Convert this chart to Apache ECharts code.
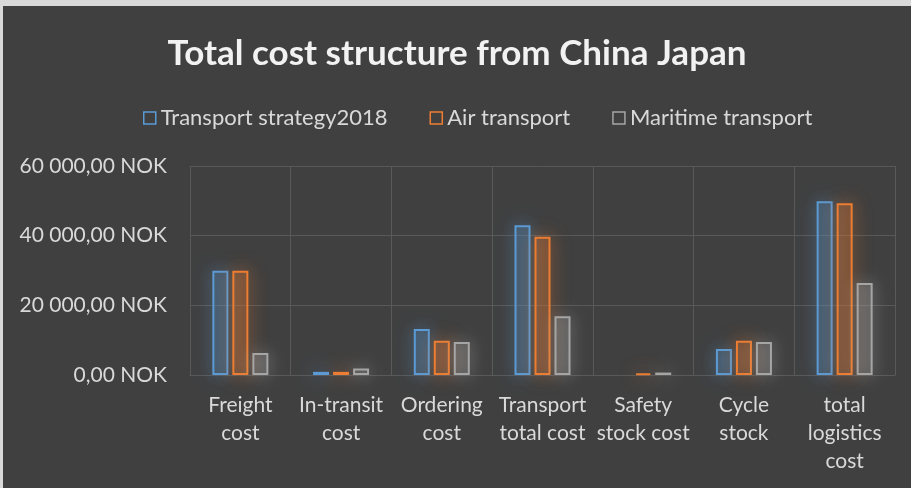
<!DOCTYPE html>
<html>
<head>
<meta charset="utf-8">
<script src="https://cdn.jsdelivr.net/npm/echarts@6/dist/echarts.min.js"></script>
<style>
html,body{margin:0;padding:0;background:#d9d9d9;width:911px;height:488px;overflow:hidden;}
#c{position:absolute;left:3px;top:6px;width:908px;height:482px;background:#404040;}
</style>
</head>
<body>
<div id="c"></div>
<script>
const categories = ["Freight\ncost", "In-transit\ncost", "Ordering\ncost", "Transport\ntotal cost", "Safety\nstock cost", "Cycle\nstock", "total\nlogistics\ncost"];
const seriesNames = ["Transport strategy2018", "Air transport", "Maritime transport"];
const strategy2018 = [29900, 900, 13200, 43000, 0, 7500, 49900];
const airTransport = [29900, 900, 9850, 39700, 500, 9850, 49300];
const maritimeTransport = [6300, 1900, 9450, 16900, 700, 9450, 26400];
const yTicks = [0, 20000, 40000, 60000];

const colors = ["#5B9BD5", "#ED7D31", "#A5A5A5"];
const fills = ["rgba(91,155,213,0.2)", "rgba(237,125,49,0.22)", "rgba(165,165,165,0.2)"];
const glows = ["rgba(91,155,213,0.9)", "rgba(237,125,49,0.85)", "rgba(190,190,190,0.8)"];
const allData = [strategy2018, airTransport, maritimeTransport];

function fmt(v){
  const s = Math.round(v).toString().replace(/\B(?=(\d{3})+(?!\d))/g, " ");
  return s + ",00 NOK";
}

const chart = echarts.init(document.getElementById('c'), null, {renderer:'canvas'});
const FONT = "Lato, 'Liberation Sans', sans-serif";
chart.setOption({
  backgroundColor: '#404040',
  animation: false,
  title: {
    text: 'Total cost structure from China Japan',
    left: 'center', top: 25,
    textStyle: {color:'#f2f2f2', fontSize: 35, fontWeight:'bold', fontFamily: FONT}
  },
  legend: {
    top: 96, left: 135,
    itemWidth: 12, itemHeight: 12, itemGap: 42,
    textStyle: {color:'#d9d9d9', fontSize: 22, fontFamily: FONT},
    data: seriesNames.map((n,i)=>({name:n, icon:'rect', itemStyle:{color:'transparent', borderColor:colors[i], borderWidth:1.5, shadowBlur:0}}))
  },
  grid: {left: 187, right: 16, top: 160, bottom: 113},
  xAxis: {
    type:'category', data: categories,
    axisLine:{show:true, lineStyle:{color:'#595959'}},
    axisTick:{show:false},
    splitLine:{show:true, lineStyle:{color:'#595959', width:1}},
    axisLabel:{color:'#d9d9d9', fontSize: 21, fontFamily: FONT, lineHeight: 28, margin: 16, interval:0}
  },
  yAxis: {
    type:'value', min: yTicks[0], max: yTicks[yTicks.length-1], interval: yTicks[1]-yTicks[0],
    axisLine:{show:false}, axisTick:{show:false},
    splitLine:{lineStyle:{color:'#595959', width:1}},
    axisLabel:{color:'#d9d9d9', fontSize: 21, fontFamily: FONT, margin: 23, formatter: fmt}
  },
  series: allData.map((d,i)=>({
    name: seriesNames[i], type:'bar', barWidth: 16, barGap: '25%',
    data: d.map(v => v === 0 ? '-' : v),
    itemStyle: {color: fills[i], borderColor: colors[i], borderWidth: 2, shadowColor: glows[i], shadowBlur: 18}
  }))
});
</script>
</body>
</html>
